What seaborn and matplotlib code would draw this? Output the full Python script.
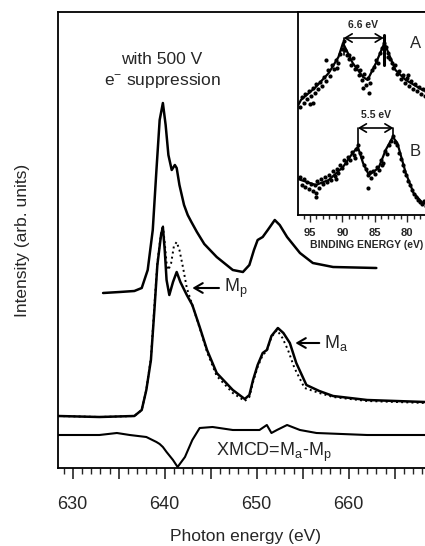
import matplotlib
matplotlib.use("Agg")
import matplotlib.pyplot as plt
import seaborn as sns
from matplotlib.ticker import MultipleLocator, FuncFormatter

# main panel: photon energy (eV) and intensity (arb. units, stacked with offsets)
top_ev = [633.3, 635.1, 636.7, 637.5, 638.15, 638.7, 639.1, 639.45, 639.8, 640.1, 640.4,
          640.76, 641.1, 641.3, 641.6, 642.1, 642.5, 642.9, 643.5, 644.3, 645.65, 647.4,
          648.5, 649.2, 649.7, 650.1, 650.65, 651.2, 651.96, 652.5, 653.3, 654.7, 656.1,
          658.3, 663.0]
top_int = [175, 176, 177, 180, 198, 238, 298, 348, 365, 343, 313, 298, 303, 300, 283, 263,
           253, 246, 236, 224, 211, 198, 196, 203, 218, 228, 231, 238, 248, 243, 231, 215,
           205, 201, 200]

ma_ev = [628.4, 632.9, 636.7, 637.5, 638.0, 638.5, 638.9, 639.2, 639.6, 639.8, 640.0, 640.2,
         640.5, 640.9, 641.3, 641.7, 642.4, 643.0, 643.8, 644.6, 645.65, 647.4, 648.7, 649.2,
         649.6, 650.1, 650.65, 651.1, 651.6, 652.3, 652.9, 653.6, 654.3, 655.4, 656.8, 658.3,
         662.0, 668.3, 670.0]
ma_int = [52, 51, 52, 58, 78, 108, 161, 203, 233, 241, 218, 188, 173, 186, 196, 186, 173, 163,
          141, 118, 95, 78, 69, 73, 88, 103, 115, 118, 132, 140, 135, 125, 105, 83, 77, 72, 68,
          66, 65]

mp_ev = [628.4, 632.9, 636.7, 637.5, 638.0, 638.5, 638.9, 639.2, 639.6, 639.8, 640.0, 640.2,
         640.4, 640.7, 641.0, 641.3, 641.6, 642.0, 642.4, 643.0, 643.8, 644.6, 645.65, 647.4,
         648.7, 649.2, 649.6, 650.1, 650.65, 651.1, 651.6, 652.2, 652.8, 653.4, 654.1, 655.2,
         656.8, 658.3, 662.0, 668.3, 670.0]
mp_int = [52, 51, 52, 58, 78, 110, 165, 205, 235, 243, 225, 205, 198, 205, 222, 226, 218, 200,
          180, 163, 140, 116, 92, 75, 67, 71, 86, 101, 113, 117, 131, 138, 130, 118, 100, 80,
          75, 71, 67, 65, 64]

xmcd_ev = [628.4, 632.9, 634.8, 636.2, 638.0, 639.1, 639.45, 639.8, 640.2, 640.9, 641.4, 642.2,
           643.0, 643.8, 645.2, 647.4, 650.3, 651.1, 651.6, 652.2, 653.3, 654.7, 656.5, 662.0,
           668.3, 670.0]
xmcd_int = [33, 33, 35, 33, 31, 26, 24, 21, 16, 8, 1, 11, 28, 40, 41, 38, 38, 43, 35, 38, 43,
            38, 35, 33, 33, 33]

main_labels = [630, 640, 650, 660]

# inset: binding energy (eV), photoemission spectra A and B
fit_a_be = [96.8, 96.4, 94.1, 92.1, 90.6, 89.9, 88.4, 86.8, 86.1, 84.8, 83.5, 81.8, 80.2, 77.6, 74.6]
fit_a_int = [110, 115, 128, 142, 158, 172, 152, 138, 135, 152, 172, 145, 135, 125, 120]
pts_a_be = [96.6, 96.3, 96.0, 95.8, 95.5, 95.2, 94.9, 94.6, 94.3, 94.0, 93.7, 93.4, 93.1, 92.8,
            92.5, 92.2, 91.9, 91.6, 91.3, 91.0, 90.7, 90.4, 90.1, 89.8, 89.6, 89.3, 89.0, 88.7,
            88.4, 88.1, 87.8, 87.5, 87.2, 86.9, 86.6, 86.3, 86.0, 85.7, 85.4, 85.1, 84.8, 84.5,
            84.2, 83.9, 83.6, 83.3, 83.0, 82.7, 82.4, 82.1, 81.8, 81.5, 81.2, 80.9, 80.6, 80.3,
            80.0, 79.7, 79.4, 79.1, 78.8, 78.5, 78.2, 77.9, 77.6, 77.3, 77.0, 94.5, 86.8, 85.9,
            92.5, 95.0, 90.9, 88.9, 82.9, 79.9]
pts_a_int = [108, 118, 112, 121, 116, 124, 119, 127, 122, 131, 126, 133, 129, 138, 134, 145,
             139, 150, 146, 155, 152, 161, 166, 174, 165, 160, 156, 150, 157, 146, 149, 140,
             145, 135, 141, 130, 137, 132, 145, 148, 155, 152, 162, 167, 172, 168, 162, 156,
             152, 147, 150, 141, 144, 136, 140, 132, 137, 129, 134, 126, 131, 124, 128, 121,
             126, 119, 124, 112, 127, 122, 155, 111, 147, 160, 158, 140]

fit_b_be = [96.8, 96.4, 94.1, 92.1, 89.9, 88.4, 87.6, 86.8, 85.9, 84.4, 83.3, 82.2, 81.5, 80.2,
            79.0, 77.6, 74.6]
fit_b_int = [36, 35, 30, 35, 48, 62, 68, 52, 40, 47, 65, 78, 72, 42, 22, 12, 8]
pts_b_be = [96.6, 96.3, 96.0, 95.7, 95.4, 95.1, 94.8, 94.5, 94.2, 93.9, 93.6, 93.3, 93.0, 92.7,
            92.4, 92.1, 91.8, 91.5, 91.2, 90.9, 90.6, 90.3, 90.0, 89.7, 89.4, 89.1, 88.8, 88.5,
            88.2, 87.9, 87.6, 87.3, 87.0, 86.7, 86.4, 86.1, 85.8, 85.5, 85.2, 84.9, 84.6, 84.3,
            84.0, 83.7, 83.4, 83.1, 82.8, 82.5, 82.2, 81.9, 81.6, 81.3, 81.0, 80.7, 80.4, 80.1,
            79.8, 79.5, 79.2, 78.9, 78.6, 78.3, 78.0, 77.7, 77.4, 77.1, 94.1, 86.1, 94.0, 91.0,
            88.0, 83.9]
pts_b_int = [38, 30, 36, 28, 33, 26, 31, 24, 30, 34, 27, 36, 31, 38, 33, 40, 35, 44, 39, 46,
             42, 50, 47, 55, 52, 58, 55, 63, 60, 66, 70, 62, 58, 50, 46, 40, 43, 37, 44, 41, 48,
             45, 55, 52, 64, 61, 70, 74, 79, 73, 70, 62, 56, 50, 44, 40, 34, 30, 25, 21, 18, 15,
             13, 11, 14, 9, 22, 27, 18, 36, 57, 50]

inset_labels = [95, 90, 85, 80]

sns.set_style("ticks")
plt.rcParams['font.family'] = ['Liberation Sans', 'DejaVu Sans']
plt.rcParams['mathtext.default'] = 'regular'

fig = plt.figure(figsize=(4.25, 5.46), dpi=100)
ax = fig.add_axes([58 / 425, 78 / 546, (670 - 628.4) * 9.2 / 425, 456 / 546])

sns.lineplot(x=top_ev, y=top_int, color='black', lw=1.8, ax=ax)
sns.lineplot(x=mp_ev, y=mp_int, color='black', lw=1.4, linestyle=':', ax=ax)
sns.lineplot(x=ma_ev, y=ma_int, color='black', lw=1.8, ax=ax)
sns.lineplot(x=xmcd_ev, y=xmcd_int, color='black', lw=1.5, ax=ax)

ax.set_xlim(628.4, 670)
ax.set_ylim(0, 456)
ax.set_yticks([])
ax.xaxis.set_major_locator(MultipleLocator(5))
ax.xaxis.set_minor_locator(MultipleLocator(1))
ax.xaxis.set_major_formatter(FuncFormatter(lambda v, p: f"{v:.0f}" if round(v) in main_labels else ""))
ax.tick_params(axis='x', which='major', direction='out', length=8, width=1.2, labelsize=13, pad=12)
ax.tick_params(axis='x', which='minor', direction='out', length=4, width=1)
for s in ['left', 'top', 'bottom']:
    ax.spines[s].set_linewidth(1.3)
    ax.spines[s].set_color('black')
ax.spines['right'].set_visible(False)

ax.set_xlabel("Photon energy (eV)", fontsize=12.5, va='center')
ax.xaxis.set_label_coords(0.49, -0.151)
ax.set_ylabel("Intensity (arb. units)", fontsize=12.5, va='center')
ax.yaxis.set_label_coords(-0.094, 0.5)

ax.text(639.7, 408, "with 500 V", fontsize=12.5, ha='center', va='center')
ax.text(639.7, 388, "e$^{-}$ suppression", fontsize=12.5, ha='center', va='center')
ax.annotate("", xy=(642.7, 180), xytext=(646.2, 180),
            arrowprops=dict(arrowstyle='->, head_length=0.6, head_width=0.35', lw=1.5, color='black'))
ax.text(646.4, 180, "M$_p$", fontsize=13, ha='left', va='center')
ax.annotate("", xy=(653.9, 125), xytext=(657.1, 125),
            arrowprops=dict(arrowstyle='->, head_length=0.6, head_width=0.35', lw=1.5, color='black'))
ax.text(657.3, 125, "M$_a$", fontsize=13, ha='left', va='center')
ax.text(645.6, 12, "XMCD=M$_a$-M$_p$", fontsize=13, ha='left', va='baseline')

# inset
ax_in = fig.add_axes([298 / 425, (546 - 215) / 546, 144 / 425, 203 / 546])
ax_in.set_facecolor('white')
sns.scatterplot(x=pts_a_be, y=pts_a_int, color='black', s=9, linewidth=0, ax=ax_in)
sns.scatterplot(x=pts_b_be, y=pts_b_int, color='black', s=9, linewidth=0, ax=ax_in)
sns.lineplot(x=fit_a_be, y=fit_a_int, color='black', lw=1.6, sort=False, ax=ax_in)
sns.lineplot(x=fit_b_be, y=fit_b_int, color='black', lw=1.6, sort=False, ax=ax_in)

ax_in.set_xlim(96.85, 74.6)
ax_in.set_ylim(0, 203)
ax_in.set_yticks([])
ax_in.xaxis.set_major_locator(MultipleLocator(5))
ax_in.xaxis.set_minor_locator(MultipleLocator(1))
ax_in.xaxis.set_major_formatter(FuncFormatter(lambda v, p: f"{v:.0f}" if round(v) in inset_labels else ""))
ax_in.tick_params(axis='x', which='major', direction='out', length=5, width=1, labelsize=8, pad=4)
ax_in.tick_params(axis='x', which='minor', direction='out', length=3, width=1)
for lbl in ax_in.get_xticklabels():
    lbl.set_fontweight('bold')
for s in ['left', 'top', 'bottom']:
    ax_in.spines[s].set_linewidth(1.3)
    ax_in.spines[s].set_color('black')
ax_in.spines['right'].set_visible(False)
ax_in.set_xlabel("BINDING ENERGY (eV)", fontsize=7.5, fontweight='bold', loc='left', va='center')
ax_in.xaxis.set_label_coords(0.08, -0.15)

arrow = dict(arrowstyle='<->, head_length=0.5, head_width=0.3', lw=1.2, color='black',
             shrinkA=0, shrinkB=0)
ax_in.annotate("", xy=(89.8, 177), xytext=(83.6, 177), arrowprops=arrow)
ax_in.plot([89.8, 89.8], [177, 160], color='black', lw=1.2)
ax_in.plot([83.6, 83.6], [180, 150], color='black', lw=2.2)
ax_in.text(86.85, 190, "6.6 eV", fontsize=7.5, fontweight='bold', ha='center', va='center')
ax_in.text(78.7, 172, "A", fontsize=12, ha='center', va='center')

ax_in.annotate("", xy=(87.6, 87), xytext=(82.1, 87), arrowprops=arrow)
ax_in.plot([87.6, 87.6], [87, 68], color='black', lw=1.2)
ax_in.plot([82.1, 82.1], [87, 77], color='black', lw=1.2)
ax_in.text(84.85, 100, "5.5 eV", fontsize=7.5, fontweight='bold', ha='center', va='center')
ax_in.text(78.7, 63, "B", fontsize=12, ha='center', va='center')

fig.savefig("out.png", dpi=100)
